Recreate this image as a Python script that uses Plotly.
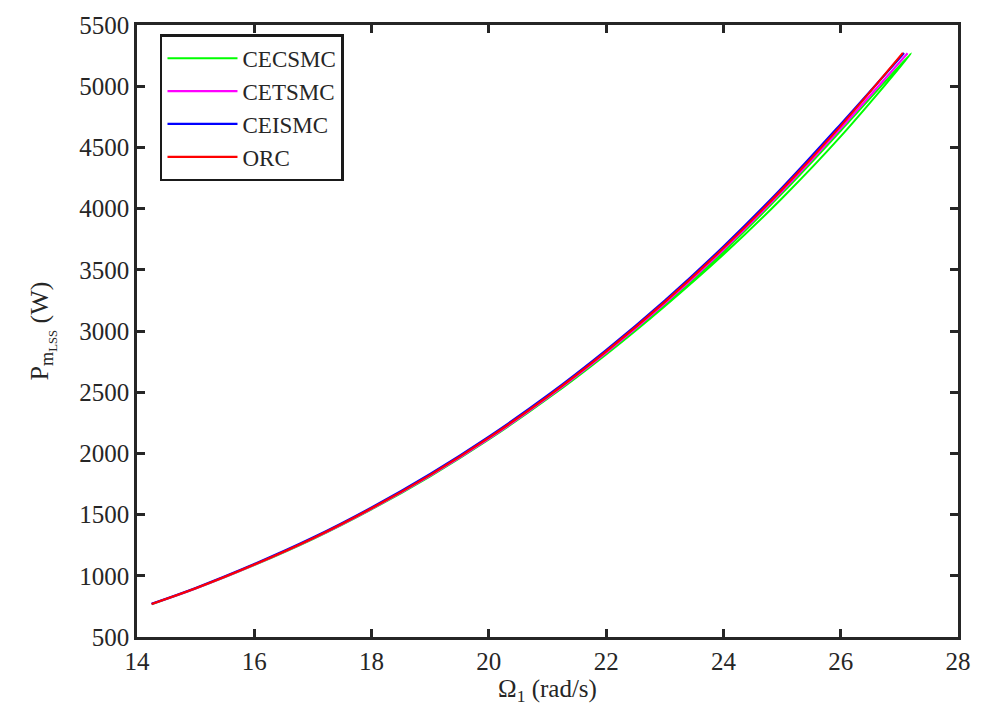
import plotly.graph_objects as go

# Rotor speed (rad/s) and low-speed-shaft mechanical power (W) for each controller
orc_omega = [14.25, 15.0, 16.0, 17.0, 18.0, 19.0, 20.0, 21.0, 22.0, 23.0, 24.0, 25.0, 26.0, 27.06]
orc_power = [770, 898, 1092, 1307, 1552, 1825, 2129, 2464, 2834, 3238, 3678, 4157, 4676, 5272]

ceismc_omega = [14.25, 15.0, 16.0, 17.0, 18.0, 19.0, 20.0, 21.0, 22.0, 23.0, 24.0, 25.0, 26.0, 27.08]
ceismc_power = [772, 901, 1096, 1312, 1558, 1832, 2137, 2473, 2844, 3249, 3690, 4170, 4690, 5272]

cetsmc_omega = [14.25, 15.0, 16.0, 17.0, 18.0, 19.0, 20.0, 21.0, 22.0, 23.0, 24.0, 25.0, 26.0, 27.14]
cetsmc_power = [770, 897, 1090, 1304, 1548, 1819, 2121, 2455, 2823, 3225, 3664, 4142, 4656, 5270]

# CECSMC traces an outward and a return branch
cecsmc_omega = [14.25, 15.0, 16.0, 17.0, 18.0, 19.0, 20.0, 21.0, 22.0, 23.0, 24.0, 25.0, 26.0, 27.2,
                26.0, 25.0, 24.0, 23.0, 22.0, 21.0, 20.0, 19.0]
cecsmc_power = [768, 895, 1087, 1300, 1543, 1813, 2114, 2446, 2812, 3212, 3648, 4124, 4636, 5268,
                4590, 4085, 3625, 3203, 2809, 2446, 2116, 1815]

FONT = "Liberation Serif"
TXT = "#262626"

fig = go.Figure()
fig.add_trace(go.Scatter(x=cecsmc_omega, y=cecsmc_power, mode="lines", name="CECSMC",
                         line=dict(color="#00ff00", width=2, shape="spline")))
fig.add_trace(go.Scatter(x=cetsmc_omega, y=cetsmc_power, mode="lines", name="CETSMC",
                         line=dict(color="#ff00ff", width=2.2, shape="spline")))
fig.add_trace(go.Scatter(x=ceismc_omega, y=ceismc_power, mode="lines", name="CEISMC",
                         line=dict(color="#0000ff", width=2.2, shape="spline")))
fig.add_trace(go.Scatter(x=orc_omega, y=orc_power, mode="lines", name="ORC",
                         line=dict(color="#ff0000", width=2.2, shape="spline")))

axis_common = dict(
    showline=True, linecolor=TXT, linewidth=2.5, mirror="allticks",
    ticks="inside", ticklen=8, tickwidth=2.5, tickcolor=TXT,
    showgrid=False, zeroline=False,
    tickfont=dict(family=FONT, size=25, color=TXT),
)

fig.update_layout(
    width=987, height=721,
    margin=dict(l=137, r=29, t=16, b=84),
    paper_bgcolor="white", plot_bgcolor="white",
    showlegend=True,
    legend=dict(
        x=0.028, y=0.985, xanchor="left", yanchor="top",
        bgcolor="white", bordercolor="#1a1a1a", borderwidth=2.5,
        font=dict(family=FONT, size=23, color=TXT),
        itemwidth=70, tracegroupgap=0,
    ),
    xaxis=dict(range=[14, 28], dtick=2, tick0=14,
               title=dict(text="Ω<sub>1</sub> (rad/s)", font=dict(family=FONT, size=25, color=TXT),
                          standoff=6),
               **axis_common),
    yaxis=dict(range=[500, 5500], dtick=500, tick0=500,
               title=dict(text="P<sub>m<sub>LSS</sub></sub> (W)",
                          font=dict(family=FONT, size=26, color=TXT), standoff=24),
               **axis_common),
)

fig.write_html("out.html")
